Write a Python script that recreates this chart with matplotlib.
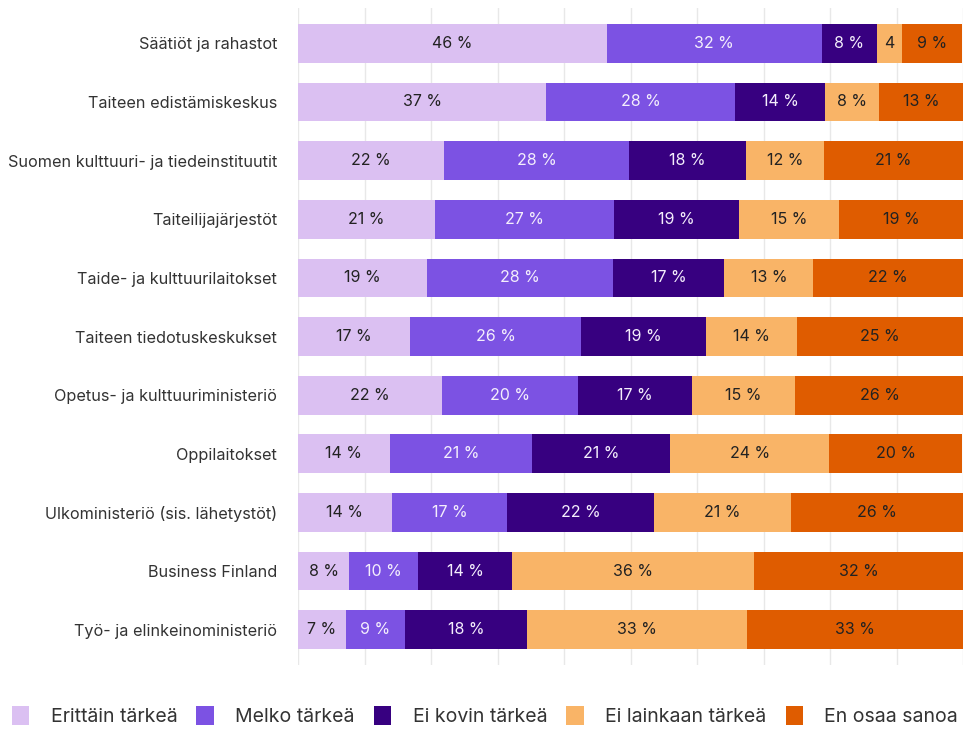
import matplotlib
matplotlib.use("Agg")
import matplotlib.pyplot as plt
import numpy as np
from matplotlib.patches import Patch

plt.rcParams['font.family'] = ['Inter', 'DejaVu Sans']

categories = [
    "Säätiöt ja rahastot",
    "Taiteen edistämiskeskus",
    "Suomen kulttuuri- ja tiedeinstituutit",
    "Taiteilijajärjestöt",
    "Taide- ja kulttuurilaitokset",
    "Taiteen tiedotuskeskukset",
    "Opetus- ja kulttuuriministeriö",
    "Oppilaitokset",
    "Ulkoministeriö (sis. lähetystöt)",
    "Business Finland",
    "Työ- ja elinkeinoministeriö",
]

series_names = ["Erittäin tärkeä", "Melko tärkeä", "Ei kovin tärkeä",
                "Ei lainkaan tärkeä", "En osaa sanoa"]

erittain = [46.4, 37.3, 21.9, 20.6, 19.4, 16.9, 21.7, 13.8, 14.1, 7.7, 7.2]
melko = [32.4, 28.4, 27.9, 26.9, 28.0, 25.6, 20.4, 21.4, 17.4, 10.4, 8.9]
ei_kovin = [8.2, 13.6, 17.6, 18.8, 16.7, 18.8, 17.2, 20.8, 22.0, 14.1, 18.4]
ei_lainkaan = [3.9, 8.1, 11.7, 15.0, 13.4, 13.8, 15.4, 23.9, 20.7, 36.3, 33.0]
en_osaa = [9.0, 12.6, 20.9, 18.7, 22.5, 24.9, 25.5, 20.0, 25.8, 31.6, 32.6]

colors = ["#dbc0f2", "#7c52e3", "#370080", "#f9b467", "#df5c00"]
text_colors = ["#222222", "#f4eefc", "#f4eefc", "#222222", "#222222"]

data = [erittain, melko, ei_kovin, ei_lainkaan, en_osaa]

fig = plt.figure(figsize=(9.66, 7.31), dpi=100)
ax = fig.add_axes([0.3085, 0.0903, 0.6884, 0.8987])

y = np.arange(len(categories))
left = np.zeros(len(categories))
for vals, col, tcol, name in zip(data, colors, text_colors, series_names):
    vals = np.array(vals)
    ax.barh(y, vals, left=left, height=0.66, color=col, label=name, zorder=2)
    for yi, (l, v) in enumerate(zip(left, vals)):
        r = int(round(v))
        lab = f"{r} %" if v >= 5 else f"{r}"
        ax.text(l + v / 2, yi, lab, ha="center", va="center", color=tcol,
                fontsize=11.5, zorder=3)
    left = left + vals

ax.set_xlim(0, 100)
ax.set_ylim(len(categories) - 0.4, -0.6)
ax.set_xticks(np.arange(0, 101, 10))
ax.xaxis.grid(True, color="#e8e8e8", linewidth=1, zorder=0)
ax.set_axisbelow(True)
ax.tick_params(axis="x", length=0, labelbottom=False)
ax.tick_params(axis="y", length=0, pad=15)
ax.set_yticks(y)
ax.set_yticklabels(categories, fontsize=11.7, color="#333333")
for s in ax.spines.values():
    s.set_visible(False)

handles = [Patch(facecolor=c, edgecolor="none") for c in colors]
fig.legend(handles, series_names, loc="lower left",
           bbox_to_anchor=(0.004, -0.004, 0.996, 0.045), mode="expand", ncol=5,
           frameon=False, fontsize=14, handlelength=0.9, handleheight=1.1,
           handletextpad=1.1, borderaxespad=0.0, labelcolor="#333333")

fig.savefig("out.png", dpi=100)
